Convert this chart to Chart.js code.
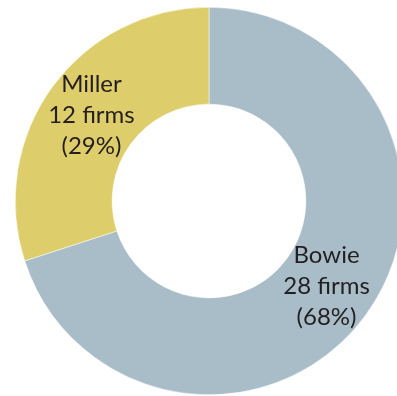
<!DOCTYPE html>
<html>
<head>
<meta charset="utf-8">
<script src="https://cdn.jsdelivr.net/npm/chart.js@4"></script>
<style>
    html, body { margin: 0; padding: 0; background: #fff; overflow: hidden; }
    body { width: 397px; height: 396px; position: relative; }
    #wrap { position: absolute; left: 15px; top: 7px; width: 388px; height: 388px; }
</style>
</head>
<body>
<div id="wrap"><canvas id="donut"></canvas></div>
<script>
// Data
const names = ['Bowie', 'Miller'];
const firms = [28, 12];
const shares = [68, 29]; // percent as printed on the chart
const colors = ['#a8bdc8', '#decd6b'];

// Draws the three-line label in the middle of each ring segment
const sliceLabels = {
    id: 'sliceLabels',
    afterDatasetsDraw(chart) {
        const ctx = chart.ctx;
        const arcs = chart.getDatasetMeta(0).data;
        ctx.save();
        ctx.fillStyle = '#231f20';
        ctx.font = '24px Lato, "Open Sans", sans-serif';
        ctx.textAlign = 'center';
        ctx.textBaseline = 'middle';
        arcs.forEach((arc, i) => {
            const pos = arc.tooltipPosition();
            const lines = [names[i], `${firms[i]} firms`, `(${shares[i]}%)`];
            lines.forEach((line, j) => {
                ctx.fillText(line, pos.x, pos.y + (j - 1) * 31);
            });
        });
        ctx.restore();
    }
};

new Chart(document.getElementById('donut').getContext('2d'), {
    type: 'doughnut',
    data: {
        labels: names,
        datasets: [{
            data: firms,
            backgroundColor: colors,
            borderColor: '#ffffff',
            borderWidth: 0.5
        }]
    },
    options: {
        responsive: true,
        maintainAspectRatio: false,
        animation: false,
        cutout: '50%',
        layout: { padding: 0 },
        plugins: {
            legend: { display: false },
            tooltip: { enabled: false }
        }
    },
    plugins: [sliceLabels]
});
</script>
</body>
</html>
